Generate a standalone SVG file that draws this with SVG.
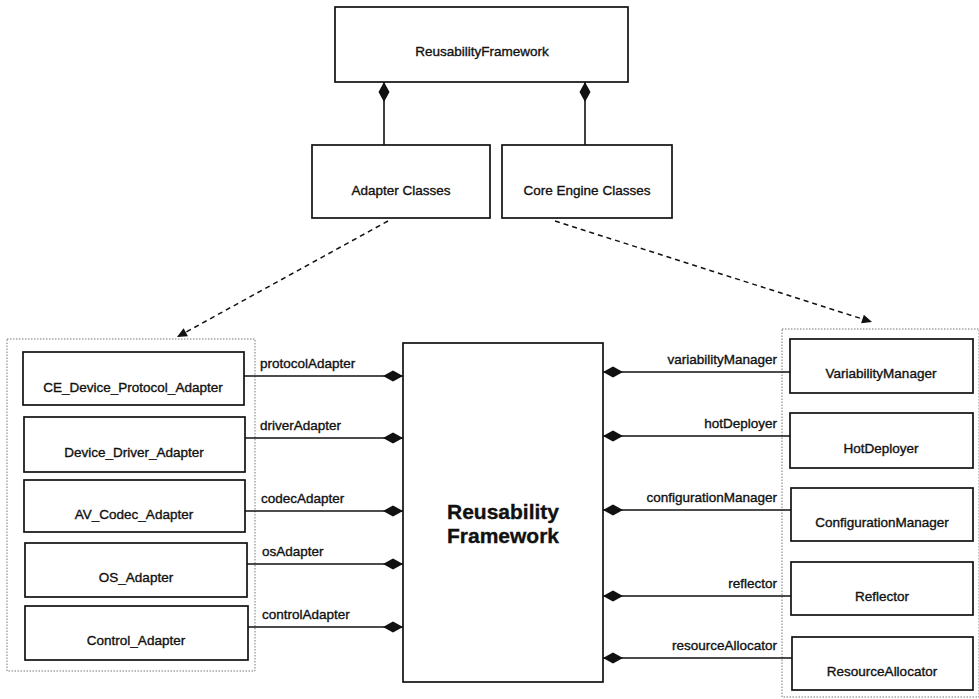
<svg xmlns="http://www.w3.org/2000/svg" width="979" height="699" viewBox="0 0 979 699">
<style>
text{font-family:"Liberation Sans",Arial,sans-serif;fill:#111;stroke:#111;stroke-width:0.35}
.box{fill:#fff;stroke:#111;stroke-width:1.7}
.lbl{font-size:13.5px;text-anchor:middle}
.role{font-size:13.5px}
.conn{stroke:#111;stroke-width:1.6;fill:none}
.dash{stroke:#111;stroke-width:1.5;fill:none;stroke-dasharray:5,4}
.cont{fill:none;stroke:#777;stroke-width:1;stroke-dasharray:1.5,1.5}
</style>
<defs>
<marker id="dia" viewBox="0 -6 20 12" refX="20" refY="0" markerWidth="20" markerHeight="12" markerUnits="userSpaceOnUse" orient="auto">
<path d="M0,0 L10,-5.5 L20,0 L10,5.5 Z" fill="#111"/>
</marker>
<marker id="arr" viewBox="0 -5 10 10" refX="10" refY="0" markerWidth="11" markerHeight="10" markerUnits="userSpaceOnUse" orient="auto">
<path d="M0,-4.5 L10,0 L0,4.5 Z" fill="#111"/>
</marker>
</defs>

<g id="containers">
<rect class="cont" x="7" y="339" width="248" height="332"/>
<rect class="cont" x="782" y="329" width="197" height="368"/>
</g>

<g id="n-top"><rect class="box" x="335" y="7" width="293" height="75"/><text class="lbl" x="482" y="56">ReusabilityFramework</text></g>
<g id="n-adapter"><rect class="box" x="312" y="145" width="178" height="73"/><text class="lbl" x="401" y="195">Adapter Classes</text></g>
<g id="n-core"><rect class="box" x="502" y="145" width="170" height="73"/><text class="lbl" x="587" y="195">Core Engine Classes</text></g>

<g id="n-center"><rect class="box" x="403" y="343" width="200" height="339"/>
<text x="503" y="519" style="font-size:21px;font-weight:bold;text-anchor:middle">Reusability</text>
<text x="503" y="543" style="font-size:21px;font-weight:bold;text-anchor:middle">Framework</text></g>

<g id="n-ce"><rect class="box" x="23" y="352" width="221" height="53"/><text class="lbl" x="133" y="392">CE_Device_Protocol_Adapter</text></g>
<g id="n-dd"><rect class="box" x="24" y="417" width="221" height="55"/><text class="lbl" x="134" y="457">Device_Driver_Adapter</text></g>
<g id="n-av"><rect class="box" x="24" y="480" width="221" height="52"/><text class="lbl" x="134" y="519">AV_Codec_Adapter</text></g>
<g id="n-os"><rect class="box" x="25" y="543" width="222" height="54"/><text class="lbl" x="136" y="582">OS_Adapter</text></g>
<g id="n-ctl"><rect class="box" x="25" y="606" width="223" height="54"/><text class="lbl" x="136" y="645">Control_Adapter</text></g>

<g id="n-vm"><rect class="box" x="790" y="339" width="183" height="54"/><text class="lbl" x="881" y="378">VariabilityManager</text></g>
<g id="n-hd"><rect class="box" x="790" y="413" width="183" height="55"/><text class="lbl" x="881" y="453">HotDeployer</text></g>
<g id="n-cm"><rect class="box" x="791" y="488" width="182" height="53"/><text class="lbl" x="882" y="527">ConfigurationManager</text></g>
<g id="n-rf"><rect class="box" x="791" y="562" width="182" height="53"/><text class="lbl" x="882" y="601">Reflector</text></g>
<g id="n-ra"><rect class="box" x="792" y="637" width="181" height="53"/><text class="lbl" x="882" y="676">ResourceAllocator</text></g>

<g id="connectors">
<line class="conn" x1="384" y1="145" x2="384" y2="82" marker-end="url(#dia)"/>
<line class="conn" x1="585" y1="145" x2="585" y2="82" marker-end="url(#dia)"/>
<line class="dash" x1="388" y1="221" x2="177" y2="337" marker-end="url(#arr)"/>
<line class="dash" x1="555" y1="221" x2="872" y2="322" marker-end="url(#arr)"/>

<line class="conn" x1="244" y1="376" x2="403" y2="376" marker-end="url(#dia)"/>
<line class="conn" x1="245" y1="438" x2="403" y2="438" marker-end="url(#dia)"/>
<line class="conn" x1="245" y1="511" x2="403" y2="511" marker-end="url(#dia)"/>
<line class="conn" x1="247" y1="564" x2="403" y2="564" marker-end="url(#dia)"/>
<line class="conn" x1="248" y1="627" x2="403" y2="627" marker-end="url(#dia)"/>

<line class="conn" x1="790" y1="372" x2="603" y2="372" marker-end="url(#dia)"/>
<line class="conn" x1="790" y1="436" x2="603" y2="436" marker-end="url(#dia)"/>
<line class="conn" x1="791" y1="510" x2="603" y2="510" marker-end="url(#dia)"/>
<line class="conn" x1="791" y1="596" x2="603" y2="596" marker-end="url(#dia)"/>
<line class="conn" x1="792" y1="658" x2="603" y2="658" marker-end="url(#dia)"/>

<text class="role" x="260" y="368">protocolAdapter</text>
<text class="role" x="260" y="430">driverAdapter</text>
<text class="role" x="261" y="503">codecAdapter</text>
<text class="role" x="262" y="556">osAdapter</text>
<text class="role" x="262" y="619">controlAdapter</text>

<text class="role" x="777" y="364" text-anchor="end">variabilityManager</text>
<text class="role" x="777" y="428" text-anchor="end">hotDeployer</text>
<text class="role" x="777" y="502" text-anchor="end">configurationManager</text>
<text class="role" x="777" y="588" text-anchor="end">reflector</text>
<text class="role" x="777" y="650" text-anchor="end">resourceAllocator</text>
</g>
</svg>
